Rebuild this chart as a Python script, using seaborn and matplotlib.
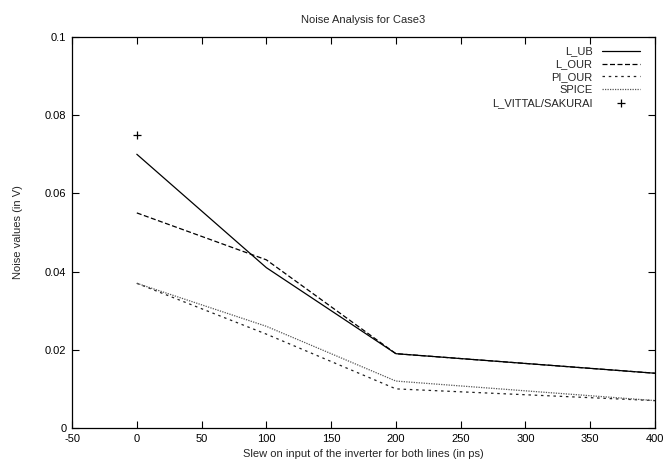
import pandas as pd
import matplotlib
matplotlib.use("Agg")
import matplotlib.pyplot as plt
import seaborn as sns

# ==========================================
# DATOS
# ==========================================

slew = [0, 100, 200, 400]

l_ub = [0.070, 0.041, 0.019, 0.014]
l_our = [0.055, 0.043, 0.019, 0.014]
pi_our = [0.037, 0.024, 0.010, 0.007]
spice = [0.037, 0.026, 0.012, 0.007]

vittal_x = [0]
vittal_y = [0.075]

x_ticks = [-50, 0, 50, 100, 150, 200, 250, 300, 350, 400]
y_ticks = [0, 0.02, 0.04, 0.06, 0.08, 0.1]
y_labels = ["0", "0.02", "0.04", "0.06", "0.08", "0.1"]

# ==========================================
# ESTILO
# ==========================================

sns.set_theme(style="ticks")
plt.rcParams["font.family"] = ["Liberation Sans", "DejaVu Sans"]
plt.rcParams["font.size"] = 8

fig = plt.figure(figsize=(6.67, 4.7), dpi=100)
ax = fig.add_axes([0.108, 0.0894, 0.874, 0.832])

series = [
    ("L_UB", l_ub, dict(color="black", linestyle="-", linewidth=0.9)),
    ("L_OUR", l_our, dict(color="black", linestyle=(0, (4, 2)), linewidth=0.9)),
    ("PI_OUR", pi_our, dict(color="#222222", linestyle=(0, (2, 3)), linewidth=0.9)),
    ("SPICE", spice, dict(color="#555555", linestyle=(0, (1, 1)), linewidth=0.9)),
]

for name, values, style in series:
    df = pd.DataFrame({"x": slew, "y": values})
    sns.lineplot(data=df, x="x", y="y", ax=ax, label=name, **style)

vit = pd.DataFrame({"x": vittal_x, "y": vittal_y})
sns.scatterplot(data=vit, x="x", y="y", ax=ax, marker="+", s=30,
                color="black", linewidth=0.9, label="L_VITTAL/SAKURAI")

# ==========================================
# EJES
# ==========================================

ax.set_xlim(-50, 400)
ax.set_ylim(0, 0.1)
ax.set_xticks(x_ticks)
ax.set_xticklabels([str(t) for t in x_ticks])
ax.set_yticks(y_ticks)
ax.set_yticklabels(y_labels)

ax.tick_params(direction="in", length=5, width=0.8, top=True, right=True,
               labelsize=8, color="black", labelcolor="black", pad=4)
for sp in ax.spines.values():
    sp.set_color("black")
    sp.set_linewidth(0.9)

ax.set_title("Noise Analysis for Case3", fontsize=8, pad=10)
ax.set_xlabel("Slew on input of the inverter for both lines (in ps)", fontsize=8, labelpad=4)
ax.set_ylabel("Noise values (in V)", fontsize=8, labelpad=16)

ax.legend(loc="upper right", bbox_to_anchor=(0.99, 0.998), frameon=False,
          markerfirst=False, fontsize=8, handlelength=3.4, labelspacing=0.25,
          handletextpad=0.9, borderaxespad=0.4, scatterpoints=1)

fig.savefig("out.png", dpi=100)
